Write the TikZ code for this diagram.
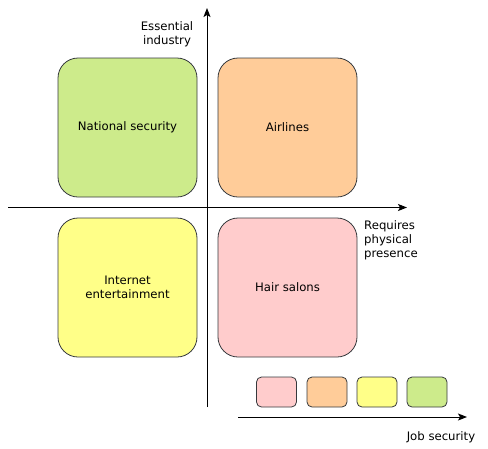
\documentclass[tikz,border=0pt]{standalone}
\usepackage{fontspec}
\setmainfont{DejaVu Sans}
\usetikzlibrary{arrows.meta}
\definecolor{cgreen}{HTML}{CDEB8B}
\definecolor{corange}{HTML}{FFCC99}
\definecolor{cyellow}{HTML}{FFFF88}
\definecolor{cpink}{HTML}{FFCCCC}
\definecolor{cstroke}{HTML}{36393D}
\begin{document}
\begin{tikzpicture}[x=1pt,y=-1pt,
  font=\fontsize{11.7}{14}\selectfont,
  bigbox/.style={draw=cstroke,line width=0.8pt,rounded corners=20pt,minimum width=139pt,minimum height=139pt,inner sep=0pt,align=center},
  smallbox/.style={draw=cstroke,line width=0.8pt,rounded corners=5pt,minimum width=40pt,minimum height=30pt,inner sep=0pt},
  axis/.style={line width=1pt,-{Stealth[length=9pt,width=7pt,inset=2pt]}},
  lbl/.style={inner sep=0pt,align=center}]
\useasboundingbox (0,0) rectangle (488,448);
\node[bigbox,fill=cgreen] (ns) at (127.5,127.5) {National security};
\node[bigbox,fill=corange] (air) at (287.5,127.5) {Airlines};
\node[bigbox,fill=cyellow] (ie) at (127.5,287.5) {Internet\\entertainment};
\node[bigbox,fill=cpink] (hs) at (287.5,287.5) {Hair salons};
\node[smallbox,fill=cpink] (s1) at (276.5,392) {};
\node[smallbox,fill=corange] (s2) at (327,392) {};
\node[smallbox,fill=cyellow] (s3) at (377,392) {};
\node[smallbox,fill=cgreen] (s4) at (427,392) {};
\coordinate (vb) at (207,407);
\coordinate (vt) at (207,8);
\coordinate (hl) at (8,207.5);
\coordinate (hr) at (407,207.5);
\coordinate (jl) at (238,417);
\coordinate (jr) at (467,417);
\draw[axis] (vb) -- (vt);
\draw[axis] (hl) -- (hr);
\draw[axis] (jl) -- (jr);
\node[lbl] (ei) at (167,34) {Essential\\industry};
\node[lbl,align=left,anchor=north west] (rp) at (364,220) {Requires\\physical\\presence};
\node[lbl] (js) at (441,437) {Job security};
\end{tikzpicture}
\end{document}
